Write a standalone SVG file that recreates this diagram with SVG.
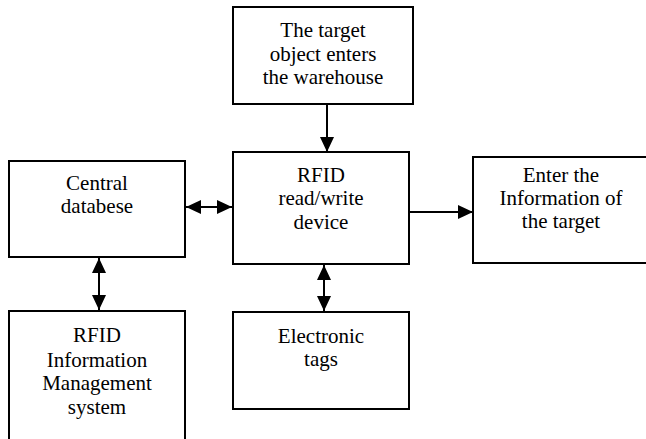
<svg xmlns="http://www.w3.org/2000/svg" width="646" height="439" viewBox="0 0 646 439" font-family="'Liberation Serif', 'DejaVu Serif', serif">
  <style>
    .box { fill: #ffffff; stroke: #000000; stroke-width: 2; }
    .lbl { font-size: 21px; fill: #000000; text-anchor: middle; }
    .wire { stroke: #000000; stroke-width: 2; fill: none; }
  </style>
  <defs>
    <marker id="head" viewBox="0 0 15 14" refX="15" refY="7" markerWidth="15" markerHeight="14" markerUnits="userSpaceOnUse" orient="auto-start-reverse">
      <path d="M0,0 L15,7 L0,14 Z" fill="#000000"/>
    </marker>
  </defs>

  <rect width="646" height="439" fill="#ffffff"/>

  <g id="warehouse-entry">
    <rect class="box" x="233" y="7" width="180" height="97"/>
    <text class="lbl" x="323" y="37">The target</text>
    <text class="lbl" x="323" y="61">object enters</text>
    <text class="lbl" x="323" y="84">the warehouse</text>
  </g>

  <g id="rfid-device">
    <rect class="box" x="233" y="152" width="176" height="112"/>
    <text class="lbl" x="321" y="182">RFID</text>
    <text class="lbl" x="321" y="205">read/write</text>
    <text class="lbl" x="321" y="229">device</text>
  </g>

  <g id="target-info">
    <rect class="box" x="473" y="157" width="180" height="106"/>
    <text class="lbl" x="561" y="182">Enter the</text>
    <text class="lbl" x="561" y="205">Information of</text>
    <text class="lbl" x="561" y="228">the target</text>
  </g>

  <g id="central-db">
    <rect class="box" x="9" y="161" width="176" height="96"/>
    <text class="lbl" x="97" y="190">Central</text>
    <text class="lbl" x="97" y="213">databese</text>
  </g>

  <g id="rfid-ims">
    <rect class="box" x="9" y="311" width="176" height="140"/>
    <text class="lbl" x="97" y="342">RFID</text>
    <text class="lbl" x="97" y="367">Information</text>
    <text class="lbl" x="97" y="390">Management</text>
    <text class="lbl" x="97" y="414">system</text>
  </g>

  <g id="e-tags">
    <rect class="box" x="233" y="312" width="176" height="97"/>
    <text class="lbl" x="321" y="343">Electronic</text>
    <text class="lbl" x="321" y="366">tags</text>
  </g>

  <g id="connectors">
    <line class="wire" x1="327" y1="104" x2="327" y2="152" marker-end="url(#head)"/>
    <line class="wire" x1="409" y1="212" x2="473" y2="212" marker-end="url(#head)"/>
    <line class="wire" x1="186" y1="207" x2="232" y2="207" marker-start="url(#head)" marker-end="url(#head)"/>
    <line class="wire" x1="99" y1="258" x2="99" y2="310" marker-start="url(#head)" marker-end="url(#head)"/>
    <line class="wire" x1="324" y1="265" x2="324" y2="311" marker-start="url(#head)" marker-end="url(#head)"/>
  </g>
</svg>
